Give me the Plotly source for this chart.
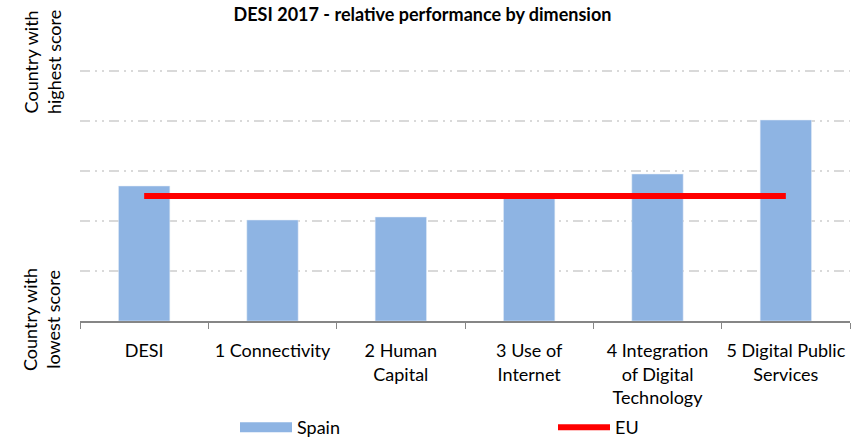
import plotly.graph_objects as go

categories = ["DESI", "1 Connectivity", "2 Human<br>Capital", "3 Use of<br>Internet",
              "4 Integration<br>of Digital<br>Technology", "5 Digital Public<br>Services"]
spain = [0.54, 0.404, 0.416, 0.494, 0.588, 0.804]
eu = [0.5, 0.5, 0.5, 0.5, 0.5, 0.5]

FONT = "Lato"
BLUE = "#8EB4E3"
RED = "#FF0000"

fig = go.Figure()
fig.add_trace(go.Bar(x=categories, y=spain, name="Spain", marker_color=BLUE,
                     width=0.4, showlegend=False))
# legend-only stand-in so the Spain key looks like a wide swatch
fig.add_trace(go.Scatter(x=[None], y=[None], mode="lines", name="Spain",
                         line=dict(color=BLUE, width=12)))
fig.add_trace(go.Scatter(x=categories, y=eu, mode="lines", name="EU",
                         line=dict(color=RED, width=6)))

# plot area: y=0 at 321px, y=1 at 71px (range runs to 1.02 so the top gridline shows)
for txt, ypos in [("Country with<br>highest score", 1.0 / 1.02 + 9 / 255),
                  ("Country with<br>lowest score", 0.004)]:
    fig.add_annotation(text=txt, textangle=-90,
                       xref="paper", yref="paper", x=0, y=ypos, xshift=-38,
                       xanchor="center", yanchor="middle", showarrow=False,
                       font=dict(family=FONT, size=18, color="black"))

fig.update_layout(
    width=856, height=448,
    margin=dict(l=80, r=6, t=66, b=127, autoexpand=False),
    paper_bgcolor="white", plot_bgcolor="white",
    font=dict(family=FONT, size=18, color="black"),
    title=dict(text="<b>DESI 2017 - relative performance by dimension</b>",
               x=422.5 / 856, xanchor="center", y=1 - 15 / 448, yanchor="middle",
               font=dict(family=FONT, size=18, color="black")),
    legend=dict(orientation="h", x=(235 - 80) / 770, xanchor="left", y=-0.418, yanchor="middle",
                entrywidth=251, entrywidthmode="pixels", itemwidth=52, font=dict(size=18)),
    bargap=0.6,
)
fig.update_xaxes(showline=True, linecolor="#868686", linewidth=1.5,
                 ticks="outside", tickson="boundaries", ticklen=6, tickcolor="#868686",
                 tickangle=0, ticklabelstandoff=13, showgrid=False)
fig.update_yaxes(range=[0, 1.02], tickvals=[0.2, 0.4, 0.6, 0.8, 1.0], showticklabels=False,
                 showline=False, ticks="",
                 showgrid=True, gridcolor="#D9D9D9", gridwidth=1.5,
                 griddash="10px,5px,2px,5px,2px,5px", zeroline=False)

fig.write_html("out.html", config={"displayModeBar": False},
               post_script="document.body.style.margin='0';")
